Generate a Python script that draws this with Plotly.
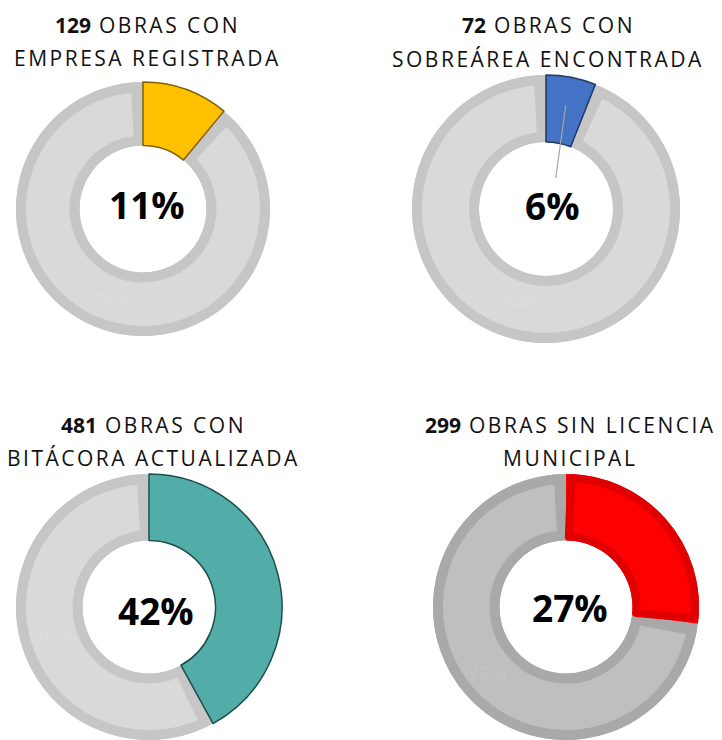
import math
import plotly.graph_objects as go

# ---------------- data ----------------
counts = [129, 72, 481, 299]
title_rest_line1 = ["OBRAS CON", "OBRAS CON", "OBRAS CON", "OBRAS SIN LICENCIA"]
title_line2 = ["EMPRESA REGISTRADA", "SOBREÁREA ENCONTRADA", "BITÁCORA ACTUALIZADA", "MUNICIPAL"]
pct_main = [11, 6, 42, 27]
pct_rest = [89, 94, 58, 73]

# ---------------- styles / layout ----------------
W, H = 722, 740
main_colors = ["#FFC000", "#4472C4", "#52ADA8", "#FF0000"]
outline_colors = ["#7F6000", "#203864", "#1E4D4A", "#E00000"]
grey_fill = ["#D9D9D9", "#D9D9D9", "#D9D9D9", "#BFBFBF"]
grey_border = ["#C6C6C6", "#C6C6C6", "#C6C6C6", "#A9A9A9"]
faint_label = ["#DCDCDC", "#DCDCDC", "#DCDCDC", "#C3C3C3"]
inner_border = [False, False, False, True]

centers = [(143, 209), (546, 209), (149, 607), (566, 607)]
radii = [127, 134, 133, 133]
hole_frac = 0.5
title_x = [147, 548, 153, 570]
title_y1 = [25, 25, 425, 425]
title_y2 = [58, 59, 458, 458]
label_pos = [(147, 204), (552, 205), (156, 610), (570, 607)]
faint_pos = [(109, 297), (524, 302), (52, 633), (487, 673)]

T = "rgba(0,0,0,0)"
FONT = "Open Sans"


def dom(cx, cy, rad):
    x0 = max(0.0, (cx - rad) / W)
    x1 = min(1.0, (cx + rad) / W)
    y0 = max(0.0, 1 - (cy + rad) / H)
    y1 = min(1.0, 1 - (cy - rad) / H)
    return dict(x=[x0, x1], y=[y0, y1])


def pct_for_px(px, radius):
    return math.degrees(px / radius) / 3.6


fig = go.Figure()
common = dict(sort=False, direction="clockwise", rotation=0, textinfo="none",
              hoverinfo="skip", showlegend=False)

for i in range(4):
    cx, cy = centers[i]
    R = radii[i]
    r = R * hole_frac
    p, q = pct_main[i], pct_rest[i]

    # base ring in border grey
    fig.add_trace(go.Pie(values=[p, q], hole=r / R, domain=dom(cx, cy, R),
                         marker=dict(colors=[grey_border[i], grey_border[i]],
                                     line=dict(width=0)), **common))
    # inset grey fill with border stroke
    Rg, rg = R - 5, r + 5
    d = pct_for_px(5.5, (R + r) / 2)
    fig.add_trace(go.Pie(values=[p + d, q - 2 * d, d], hole=rg / Rg, domain=dom(cx, cy, Rg),
                         marker=dict(colors=[T, grey_fill[i], T],
                                     line=dict(color=[T, grey_border[i], T], width=[0, 10, 0])),
                         **common))
    # main coloured slice
    fig.add_trace(go.Pie(values=[p, q], hole=r / R, domain=dom(cx, cy, R),
                         marker=dict(colors=[main_colors[i], T],
                                     line=dict(color=[outline_colors[i], T],
                                               width=[0 if inner_border[i] else 1.5, 0])),
                         **common))
    if inner_border[i]:
        Rr, rr = R - 4, r + 4
        d2 = pct_for_px(4, (R + r) / 2)
        fig.add_trace(go.Pie(values=[d2, p - 2 * d2, q + d2], hole=rr / Rr, domain=dom(cx, cy, Rr),
                             marker=dict(colors=[T, main_colors[i], T],
                                         line=dict(color=[T, outline_colors[i], T], width=[0, 8, 0])),
                             **common))

annotations = []
for i in range(4):
    sp = "letter-spacing:2.5px"
    annotations.append(dict(
        x=title_x[i] / W, y=1 - title_y1[i] / H, xref="paper", yref="paper",
        xanchor="center", yanchor="middle", showarrow=False,
        text=f"<b>{counts[i]}</b><span style='{sp}'> {title_rest_line1[i]}</span>",
        font=dict(family=FONT, size=21, color="#111111")))
    annotations.append(dict(
        x=title_x[i] / W, y=1 - title_y2[i] / H, xref="paper", yref="paper",
        xanchor="center", yanchor="middle", showarrow=False,
        text=f"<span style='{sp}'>{title_line2[i]}</span>",
        font=dict(family=FONT, size=21, color="#111111")))
    # faint label for the remainder
    fx, fy = faint_pos[i]
    annotations.append(dict(
        x=fx / W, y=1 - fy / H, xref="paper", yref="paper",
        xanchor="center", yanchor="middle", showarrow=False,
        text=f"<b>{pct_rest[i]}%</b>",
        font=dict(family=FONT, size=19, color=faint_label[i])))

# main percentage labels
for i in range(4):
    lx, ly = label_pos[i]
    if i == 1:
        cx, cy = centers[i]
        R = radii[i]
        r = R * hole_frac
        ang = math.radians(pct_main[i] * 3.6 / 2)
        rm = (R + r) / 2 + 5
        px, py = cx + rm * math.sin(ang), cy - rm * math.cos(ang)
        annotations.append(dict(
            x=px / W, y=1 - py / H, xref="paper", yref="paper",
            ax=lx - px, ay=ly - py, showarrow=True, arrowhead=0,
            arrowwidth=1.2, arrowcolor="#A6A6A6", standoff=0, startstandoff=0,
            text=f"<b>{pct_main[i]}%</b>",
            font=dict(family=FONT, size=37, color="#000000")))
    else:
        annotations.append(dict(
            x=lx / W, y=1 - ly / H, xref="paper", yref="paper",
            xanchor="center", yanchor="middle", showarrow=False,
            text=f"<b>{pct_main[i]}%</b>",
            font=dict(family=FONT, size=37, color="#000000")))

fig.update_layout(width=W, height=H, margin=dict(l=0, r=0, t=0, b=0),
                  paper_bgcolor="white", plot_bgcolor="white",
                  annotations=annotations)

fig.write_html("out.html", config={"displayModeBar": False},
               post_script="document.body.style.margin='0';document.body.style.overflow='hidden';")
